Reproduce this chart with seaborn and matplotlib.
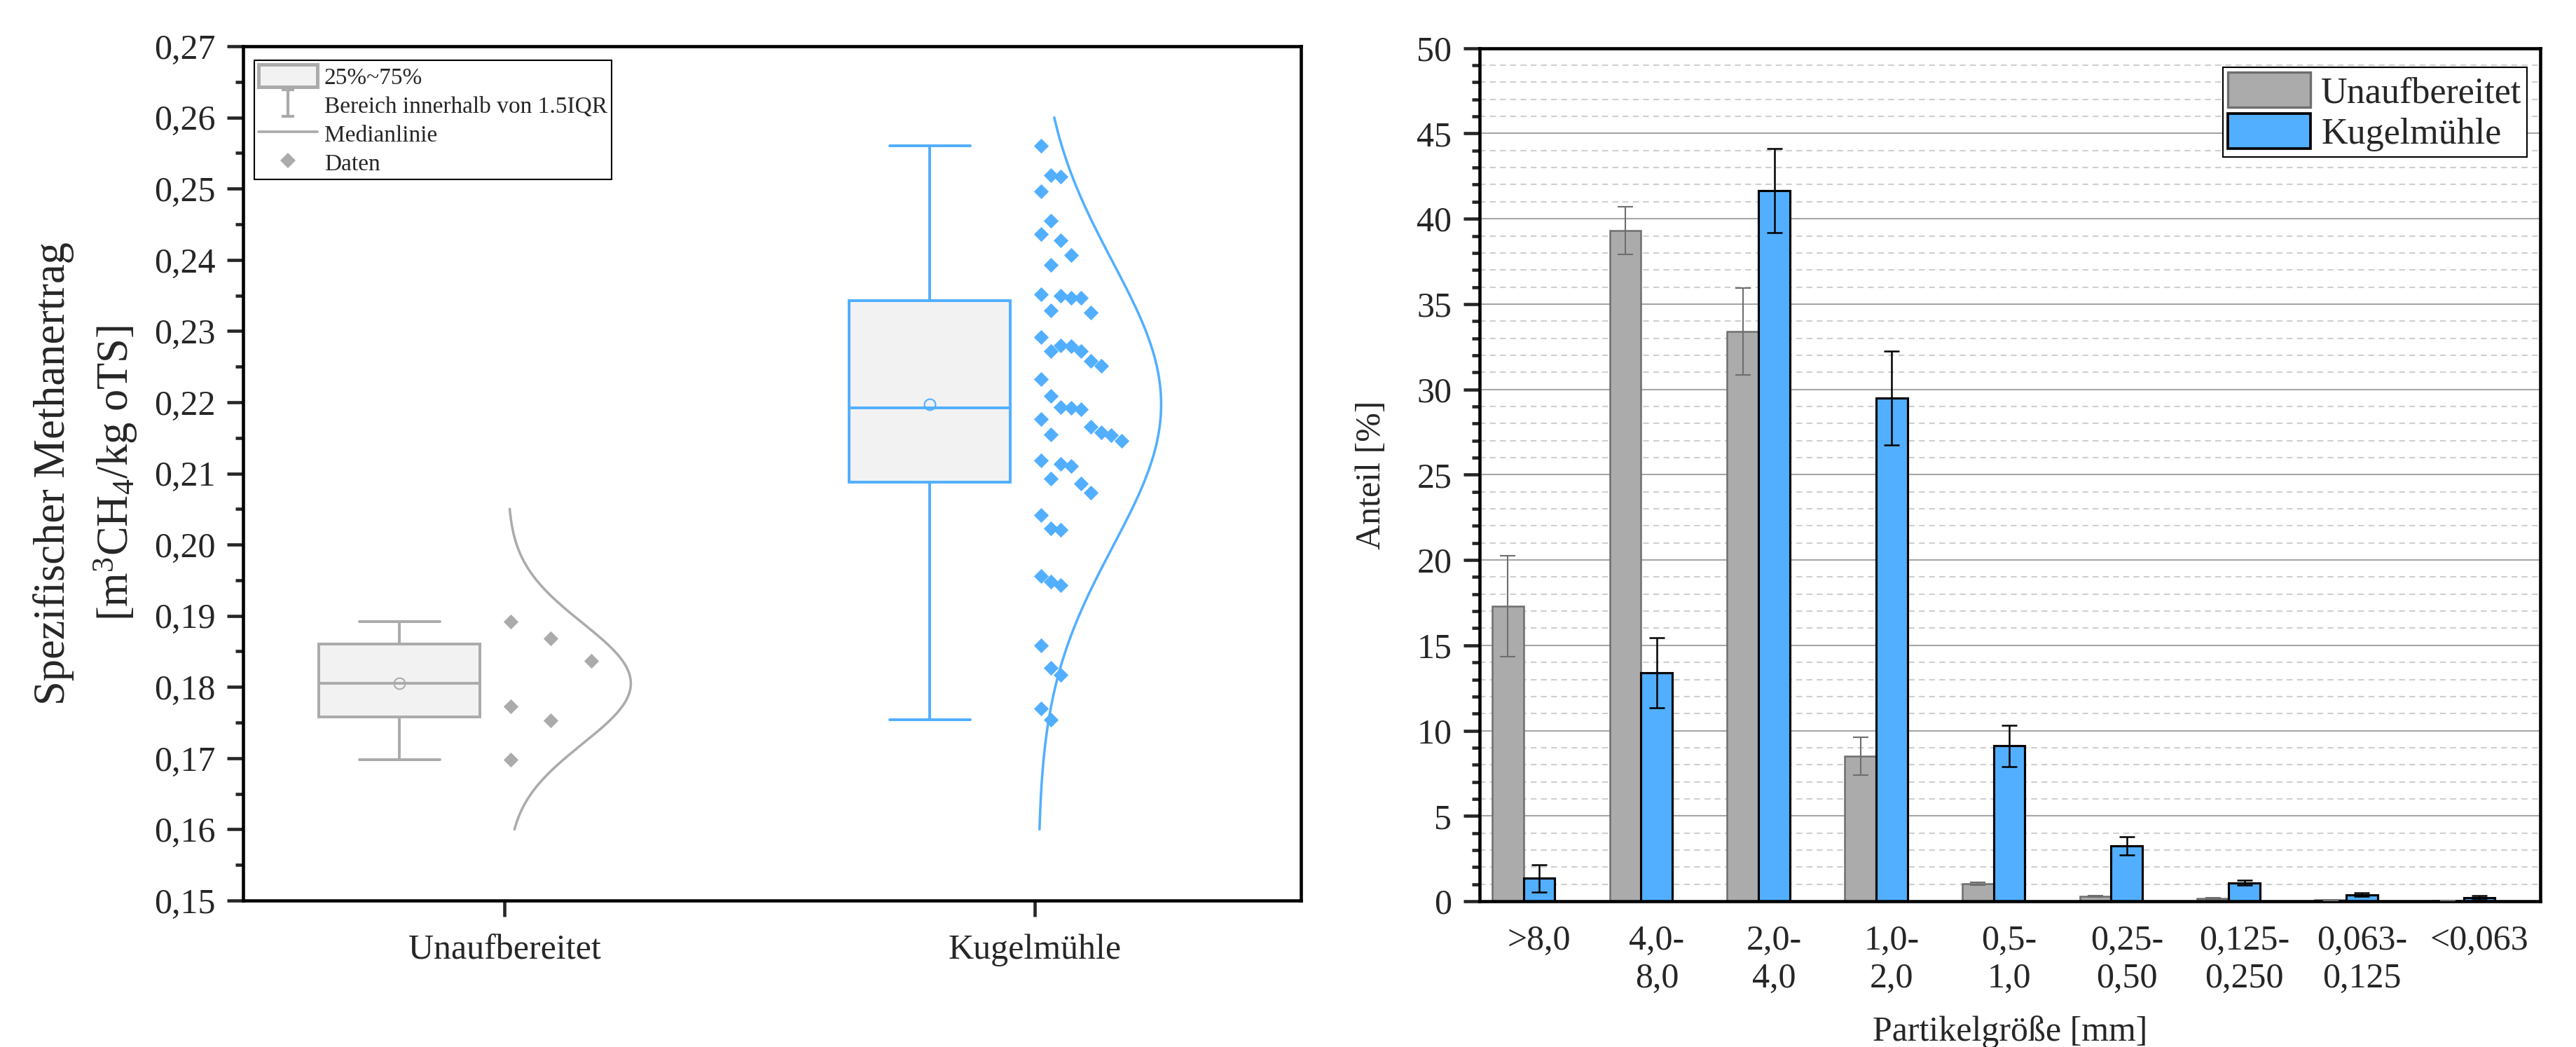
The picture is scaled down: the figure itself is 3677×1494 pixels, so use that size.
import numpy as np
import pandas as pd
import matplotlib.pyplot as plt
import seaborn as sns
from matplotlib.lines import Line2D
from matplotlib.patches import Patch
from matplotlib.path import Path
from matplotlib.ticker import MultipleLocator, FuncFormatter

# ---------- Daten links: spezifischer Methanertrag ----------
gruppen = ['Unaufbereitet', 'Kugelmühle']
ertrag_unaufbereitet = [0.1892, 0.1868, 0.1837, 0.1773, 0.1753, 0.1698]
ertrag_kugelmuehle = [0.2560, 0.2519, 0.2517, 0.2496, 0.2455, 0.2436, 0.2427, 0.2407, 0.2393,
                      0.2350, 0.2347, 0.2352, 0.2347, 0.2329, 0.2326, 0.2291, 0.2280, 0.2279,
                      0.2272, 0.2272, 0.2258, 0.2251, 0.2232, 0.2209, 0.2190, 0.2192, 0.2193,
                      0.2176, 0.2165, 0.2155, 0.2154, 0.2158, 0.2146, 0.2118, 0.2113, 0.2110,
                      0.2093, 0.2086, 0.2073, 0.2041, 0.2023, 0.2021, 0.1948, 0.1956, 0.1943,
                      0.1858, 0.1827, 0.1817, 0.1770, 0.1754]
mittelwert_kurve = [0.1805, 0.2197]
sd_kurve = [0.0085, 0.0200]
kurve_von = [0.160, 0.160]
kurve_bis = [0.205, 0.260]

# ---------- Daten rechts: Partikelgrößenverteilung ----------
kategorien = ['>8,0', '4,0-\n8,0', '2,0-\n4,0', '1,0-\n2,0', '0,5-\n1,0',
              '0,25-\n0,50', '0,125-\n0,250', '0,063-\n0,125', '<0,063']
anteil_unaufbereitet = [17.3, 39.3, 33.4, 8.5, 1.02, 0.29, 0.17, 0.08, 0.04]
sd_unaufbereitet = [2.95, 1.4, 2.55, 1.1, 0.08, 0.04, 0.03, 0.02, 0.01]
anteil_kugelmuehle = [1.35, 13.4, 41.65, 29.5, 9.1, 3.26, 1.08, 0.39, 0.21]
sd_kugelmuehle = [0.8, 2.05, 2.45, 2.75, 1.2, 0.53, 0.15, 0.11, 0.12]

GRAU = '#ababab'
GRAU_RAND = '#6e6e6e'
BLAU = '#52afff'
FUELLUNG = '#f2f2f2'

sns.set_style('ticks')
plt.rcParams['font.family'] = ['Liberation Serif', 'DejaVu Serif']
plt.rcParams['mathtext.fontset'] = 'custom'
plt.rcParams['mathtext.rm'] = 'Liberation Serif'
plt.rcParams['axes.linewidth'] = 1.1
plt.rcParams['axes.edgecolor'] = 'black'

fig = plt.figure(figsize=(3677 / 300, 1494 / 300), dpi=300)
ax1 = fig.add_axes([0.0944, 0.1399, 0.4107, 0.8159])
ax2 = fig.add_axes([0.5744, 0.1392, 0.4118, 0.8148])


def spalten(werte, abstand):
    # einseitige Anordnung der Punkte: erste freie Spalte ohne Überlappung
    werte = np.asarray(werte)
    spalte = np.full(len(werte), -1)
    for i in np.argsort(werte)[::-1]:
        k = 0
        while np.any((spalte == k) & (np.abs(werte - werte[i]) < abstand)):
            k += 1
        spalte[i] = k
    return spalte


farben = [GRAU, BLAU]
schritt = [0.076, 0.019]
abstand = [0.006, 0.0052]
for i, (name, werte) in enumerate(zip(gruppen, [ertrag_unaufbereitet, ertrag_kugelmuehle])):
    farbe = farben[i]
    pos_box = i - 0.198
    sns.boxplot(x=[pos_box] * len(werte), y=werte, native_scale=True, width=0.304,
                whis=(0, 100), showfliers=False, color=FUELLUNG, saturation=1,
                linecolor=farbe, linewidth=0.95, ax=ax1)
    ax1.plot([pos_box], [mittelwert_kurve[i]], marker='o', mfc='none', mec=farbe,
             ms=3.8, mew=0.5, ls='none')
    # Datenpunkte neben der Box
    sp = spalten(werte, abstand[i])
    sns.scatterplot(x=i + 0.011 + sp * schritt[i], y=werte, marker='D', s=13,
                    color=farbe, linewidth=0, ax=ax1)
    # Normalverteilungskurve
    yc = np.linspace(kurve_von[i], kurve_bis[i], 300)
    dichte = np.exp(-0.5 * ((yc - mittelwert_kurve[i]) / sd_kurve[i]) ** 2)
    sns.lineplot(x=i + 0.006 + 0.232 * dichte, y=yc, orient='y', color=farbe,
                 lw=0.85, ax=ax1)

ax1.set_xlim(-0.493, 1.502)
ax1.set_ylim(0.15, 0.27)
ax1.set_xticks([0, 1])
ax1.set_xticklabels(gruppen)
ax1.yaxis.set_major_locator(MultipleLocator(0.01))
ax1.yaxis.set_minor_locator(MultipleLocator(0.005))
ax1.yaxis.set_major_formatter(FuncFormatter(lambda v, p: f'{v:.2f}'.replace('.', ',')))
ax1.tick_params(axis='y', which='major', direction='out', length=5.5, width=1.1,
                labelsize=12, pad=4, left=True, right=False)
ax1.tick_params(axis='y', which='minor', direction='out', length=2.7, width=1.1, left=True)
ax1.tick_params(axis='x', direction='out', length=5.5, width=1.1, labelsize=12, pad=6,
                bottom=True, top=False)
ax1.set_xlabel('')
ax1.set_ylabel('Spezifischer Methanertrag\n[m$\\mathregular{^3}$CH$\\mathregular{_4}$/kg oTS]',
               fontsize=15, labelpad=5, linespacing=1.5)
for s in ax1.spines.values():
    s.set_visible(True)
    s.set_linewidth(1.1)

ibeam = Path([(-0.5, 1), (0.5, 1), (0, 1), (0, -1), (-0.5, -1), (0.5, -1)],
             [Path.MOVETO, Path.LINETO, Path.MOVETO, Path.LINETO, Path.MOVETO, Path.LINETO])
handles1 = [
    Patch(facecolor=FUELLUNG, edgecolor=GRAU, linewidth=1.2),
    Line2D([], [], ls='none', marker=ibeam, ms=9, mec=GRAU, mew=1.0),
    Line2D([], [], color=GRAU, lw=0.9),
    Line2D([], [], ls='none', marker='D', ms=3.6, mfc=GRAU, mec=GRAU, mew=0),
]
labels1 = ['25%~75%', 'Bereich innerhalb von 1.5IQR', 'Medianlinie', 'Daten']
leg1 = ax1.legend(handles1, labels1, loc='upper left', bbox_to_anchor=(0.0103, 0.984),
                  borderaxespad=0, fontsize=8, frameon=True, fancybox=False,
                  edgecolor='black', framealpha=1, handlelength=2.5, handleheight=1.1,
                  handletextpad=0.3, labelspacing=0.2, borderpad=0.2)
leg1.get_frame().set_linewidth(0.5)

# ---------- rechts: Balken ----------
serien = ['Unaufbereitet', 'Kugelmühle']
hue_ebenen = ['Unaufbereitet', 'Kugelmühle', 'leer']
palette = {'Unaufbereitet': GRAU, 'Kugelmühle': BLAU, 'leer': 'white'}
df_bar = pd.DataFrame({
    'kategorie': kategorien * 2,
    'anteil': anteil_unaufbereitet + anteil_kugelmuehle,
    'sd': sd_unaufbereitet + sd_kugelmuehle,
    'serie': [serien[0]] * len(kategorien) + [serien[1]] * len(kategorien),
})
rand = {'Unaufbereitet': (GRAU_RAND, 0.6), 'Kugelmühle': ('black', 0.75)}
fehler = {'Unaufbereitet': (GRAU_RAND, 0.5), 'Kugelmühle': ('black', 0.6)}
for name in serien:
    sub = df_bar[df_bar['serie'] == name]
    n_vorher = len(ax2.patches)
    sns.barplot(data=sub, x='kategorie', y='anteil', hue='serie', hue_order=hue_ebenen,
                order=kategorien, palette=palette, saturation=1, errorbar=None, dodge=True,
                edgecolor=rand[name][0], linewidth=rand[name][1], legend=False, ax=ax2)
    balken = ax2.patches[n_vorher:]
    xs = [b.get_x() + b.get_width() / 2 for b in balken]
    ys = [b.get_height() for b in balken]
    ax2.errorbar(xs, ys, yerr=sub['sd'].values, fmt='none', ecolor=fehler[name][0],
                 elinewidth=fehler[name][1], capsize=2.6, capthick=fehler[name][1], zorder=3)

ax2.set_xlim(-0.507, 8.52)
ax2.set_ylim(0, 50)
ax2.yaxis.set_major_locator(MultipleLocator(5))
ax2.yaxis.set_minor_locator(MultipleLocator(1))
ax2.set_axisbelow(True)
ax2.yaxis.grid(True, which='major', color='#a6a6a6', lw=0.5, ls='-')
ax2.yaxis.grid(True, which='minor', color='#cfcfcf', lw=0.5, ls=(0, (4, 3)))
ax2.tick_params(axis='y', which='major', direction='out', length=5.5, width=1.1,
                labelsize=12, pad=4, left=True, right=False)
ax2.tick_params(axis='y', which='minor', direction='out', length=2.7, width=1.1, left=True)
ax2.tick_params(axis='x', length=0, labelsize=12, pad=8)
ax2.set_ylabel('Anteil [%]', fontsize=12, labelpad=10)
ax2.set_xlabel('Partikelgröße [mm]', fontsize=12, labelpad=7)
for s in ax2.spines.values():
    s.set_visible(True)
    s.set_linewidth(1.1)

handles2 = [Patch(facecolor=GRAU, edgecolor=GRAU_RAND, linewidth=0.8),
            Patch(facecolor=BLAU, edgecolor='black', linewidth=0.9)]
leg2 = ax2.legend(handles2, serien, loc='upper right', bbox_to_anchor=(0.9875, 0.978),
                  borderaxespad=0, fontsize=12.5, frameon=True, fancybox=False,
                  edgecolor='black', framealpha=1, handlelength=2.25, handleheight=1.1,
                  handletextpad=0.3, labelspacing=0.1, borderpad=0.15)
leg2.get_frame().set_linewidth(0.5)

fig.savefig('out.png', dpi=300)
plt.close(fig)
